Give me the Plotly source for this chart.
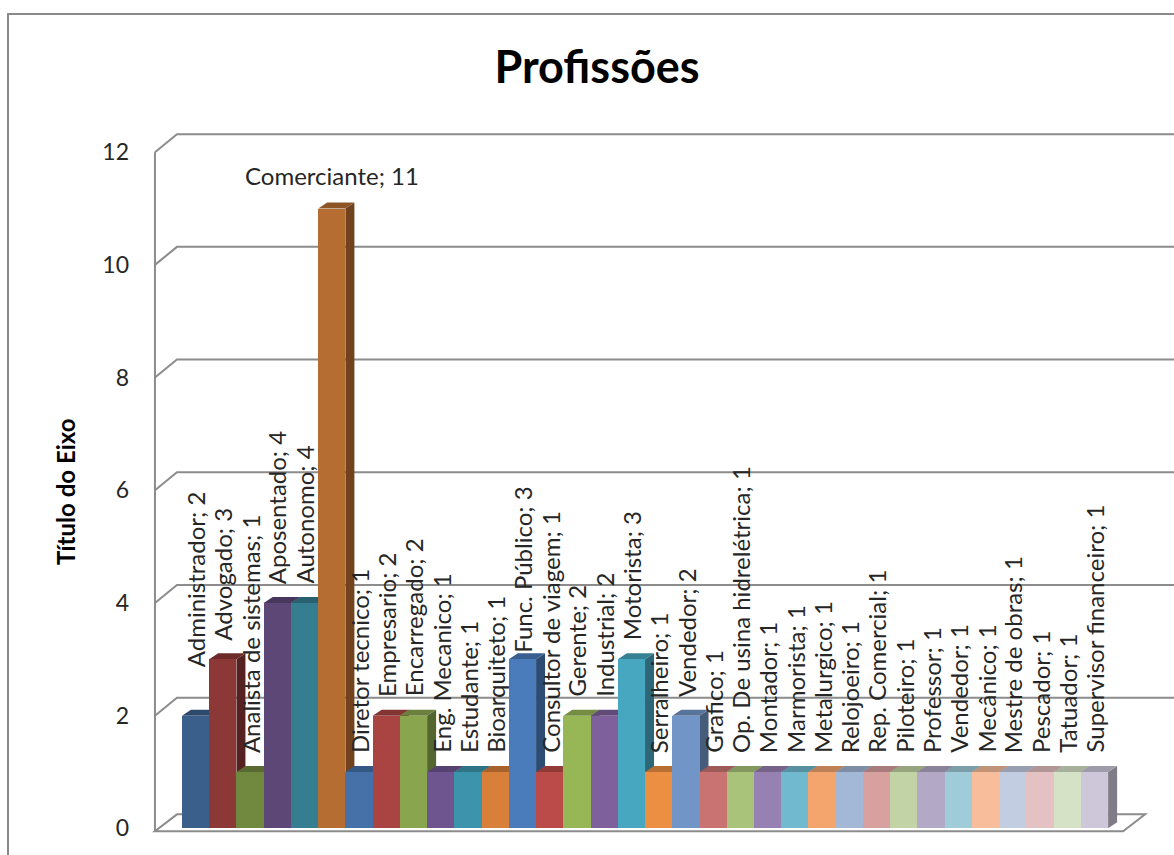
import plotly.graph_objects as go

# ---- data -------------------------------------------------------------
profissoes = [
    "Administrador", "Advogado", "Analista de sistemas", "Aposentado", "Autonomo",
    "Comerciante", "Diretor tecnico", "Empresario", "Encarregado", "Eng. Mecanico",
    "Estudante", "Bioarquiteto", "Func. Público", "Consultor de viagem", "Gerente",
    "Industrial", "Motorista", "Serralheiro", "Vendedor", "Grafico",
    "Op. De usina hidrelétrica", "Montador", "Marmorista", "Metalurgico", "Relojoeiro",
    "Rep. Comercial", "Piloteiro", "Professor", "Vendedor", "Mecânico",
    "Mestre de obras", "Pescador", "Tatuador", "Supervisor financeiro",
]
quantidade = [2, 3, 1, 4, 4, 11, 1, 2, 2, 1, 1, 1, 3, 1, 2, 2, 3, 1, 2, 1,
              1, 1, 1, 1, 1, 1, 1, 1, 1, 1, 1, 1, 1, 1]
y_ticks = [0, 2, 4, 6, 8, 10, 12]

# ---- styling ----------------------------------------------------------
cores = [
    "#3A5F8B", "#8B3836", "#71893F", "#5D4776", "#357D91", "#B66D31",
    "#4570A8", "#A94442", "#89A54E", "#6E5590", "#3C94AC", "#D88039",
    "#4A7BBA", "#BA4B48", "#97B655", "#7E619C", "#47A6C0", "#EC8F42",
    "#7295C7", "#C97472", "#A9C47A", "#9780B2", "#70B9CE", "#F4A56D",
    "#A3B7D7", "#D8A09F", "#C2D3A5", "#B3A8C6", "#A0CBD9", "#F8BE9C",
    "#C3CDE2", "#E4C1C3", "#D6E2C6", "#CEC7DA",
]
# extra vertical offsets (px) for a couple of crowded labels
label_nudge = {0: 29, 12: -12}

FONT = "Lato"
GRID = "#8C8C8C"

W, H = 1174, 855
ML, MR, MT, MB = 152, 0, 124, 21
PLOT_W, PLOT_H = W - ML - MR, H - MT - MB
PX_CAT = 27.24                      # px per category slot
X_LO = -1.6
X_HI = X_LO + PLOT_W / PX_CAT
Y_LO, Y_HI = -0.1, 12.5
PX_UNIT = PLOT_H / (Y_HI - Y_LO)

X_AXIS = -0.5 - 27 / PX_CAT          # front vertical axis position
BX, BY = 22 / PX_CAT, 18 / PX_UNIT   # back wall offset
DX, DY = 9 / PX_CAT, 6 / PX_UNIT     # bar depth offset
FX, FY = 22 / PX_CAT, 14 / PX_UNIT   # floor depth
FLOOR_R = len(quantidade) - 0.5 + 15 / PX_CAT


def shade(hex_color, f):
    h = hex_color.lstrip("#")
    r, g, b = (int(h[i:i + 2], 16) for i in (0, 2, 4))
    return "#{:02X}{:02X}{:02X}".format(int(r * f), int(g * f), int(b * f))


shapes = []

# chart border
shapes.append(dict(
    type="rect", xref="paper", yref="paper",
    x0=(8 - ML) / PLOT_W, x1=1.05,
    y0=-0.2, y1=(H - MB - 14) / PLOT_H,
    line=dict(color="#8A8A8A", width=2), fillcolor="rgba(0,0,0,0)", layer="below",
))

# floor
shapes.append(dict(
    type="path", xref="x", yref="y", layer="below",
    path=f"M {X_AXIS},-0.05 L {FLOOR_R},-0.05 L {FLOOR_R + FX},{FY} L {X_AXIS + FX},{FY} Z",
    line=dict(color=GRID, width=2), fillcolor="white",
))

# back wall gridlines
for k in y_ticks[1:]:
    shapes.append(dict(
        type="path", xref="x", yref="y", layer="below",
        path=f"M {X_AXIS},{k} L {X_AXIS + BX},{k + BY} L {X_HI + 1},{k + BY}",
        line=dict(color=GRID, width=2),
    ))

# front value axis
shapes.append(dict(
    type="line", xref="x", yref="y", layer="below",
    x0=X_AXIS, x1=X_AXIS, y0=-0.05, y1=y_ticks[-1],
    line=dict(color=GRID, width=2),
))

# 3-D side and top faces of each column
for i, (v, c) in enumerate(zip(quantidade, cores)):
    x0, x1 = i - 0.5, i + 0.5
    shapes.append(dict(
        type="path", xref="x", yref="y", layer="below",
        path=f"M {x1},0 L {x1},{v} L {x1 + DX},{v + DY} L {x1 + DX},{DY} Z",
        fillcolor=shade(c, 0.62), line=dict(width=0),
    ))
    shapes.append(dict(
        type="path", xref="x", yref="y", layer="below",
        path=f"M {x0},{v} L {x1},{v} L {x1 + DX},{v + DY} L {x0 + DX},{v + DY} Z",
        fillcolor=shade(c, 0.78), line=dict(width=0),
    ))

fig = go.Figure()
fig.add_trace(go.Bar(
    x=list(range(len(quantidade))), y=quantidade, width=1,
    marker=dict(color=cores, line=dict(width=0)),
    customdata=profissoes,
    hovertemplate="%{customdata}: %{y}<extra></extra>",
))

# data labels
annotations = []
vmax = max(quantidade)
for i, (nome, v) in enumerate(zip(profissoes, quantidade)):
    annotations.append(dict(
        x=i, y=v, xref="x", yref="y", text=f"{nome}; {v}",
        showarrow=False, textangle=0 if v == vmax else -90,
        xanchor="center", yanchor="bottom", yshift=17 + label_nudge.get(i, 0),
        font=dict(family=FONT, size=24, color="#262626"),
    ))

# value axis title
annotations.append(dict(
    xref="paper", yref="paper", x=(65 - ML) / PLOT_W, y=(H - MB - 492) / PLOT_H,
    text="<b>Título do Eixo</b>", textangle=-90, showarrow=False,
    xanchor="center", yanchor="middle",
    font=dict(family=FONT, size=24, color="black"),
))

fig.update_layout(
    width=W, height=H,
    margin=dict(l=ML, r=MR, t=MT, b=MB),
    paper_bgcolor="white", plot_bgcolor="white",
    showlegend=False, bargap=0,
    shapes=shapes, annotations=annotations,
    title=dict(
        text="<b>Profissões</b>", x=597 / W, xanchor="center",
        y=1 - 67 / H, yanchor="middle",
        font=dict(family=FONT, size=45, color="black"),
    ),
    xaxis=dict(range=[X_LO, X_HI], showticklabels=False, showgrid=False,
               zeroline=False, showline=False, ticks=""),
    yaxis=dict(
        range=[Y_LO, Y_HI], tickvals=y_ticks, ticks="", showgrid=False,
        zeroline=False, showline=False, ticklabelstandoff=22,
        tickfont=dict(family=FONT, size=23, color="#262626"),
    ),
    font=dict(family=FONT),
)

fig.write_html("out.html")
